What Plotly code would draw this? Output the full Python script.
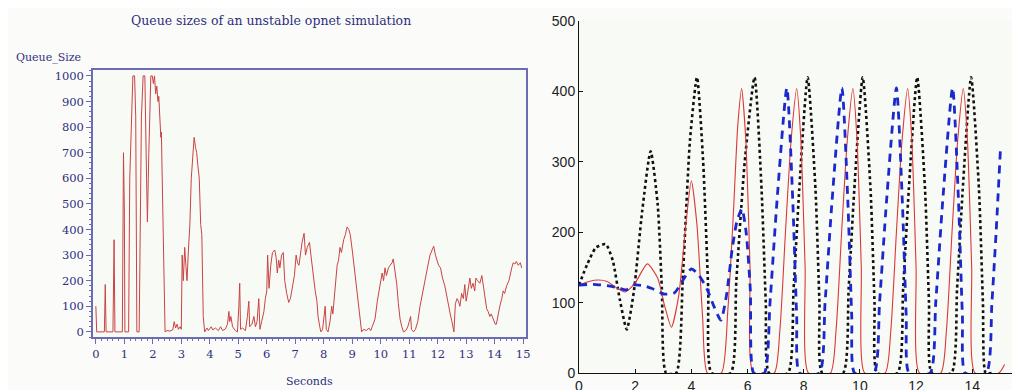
import plotly.graph_objects as go

# ---------------- Left panel: OPNET queue sizes ----------------
left_t = [0.0, 0.03, 0.30, 0.33, 0.36, 0.60, 0.64, 0.67, 0.93, 0.97, 1.00, 1.02, 1.15, 1.19,
          1.30, 1.36, 1.40, 1.44, 1.52, 1.56, 1.60, 1.66, 1.72, 1.78, 1.81, 1.86, 1.93, 1.98,
          2.02, 2.06, 2.10, 2.14, 2.18, 2.21, 2.25, 2.28, 2.30, 2.34, 2.40, 2.43,
          2.50, 2.60, 2.70, 2.75, 2.80, 2.85, 2.90, 2.96, 3.00,
          3.03, 3.07, 3.12, 3.16, 3.20, 3.25, 3.30, 3.35, 3.40, 3.45, 3.50, 3.54, 3.58, 3.63,
          3.68, 3.72, 3.77, 3.82,
          3.90, 3.95, 4.05, 4.10, 4.20, 4.30, 4.38, 4.45, 4.55, 4.62, 4.67, 4.70, 4.74, 4.80,
          4.90, 4.97, 5.02, 5.05, 5.08, 5.15, 5.25, 5.32, 5.37, 5.40, 5.48, 5.55, 5.60, 5.66,
          5.72, 5.76, 5.82, 5.90, 5.95,
          6.00, 6.03, 6.08, 6.14, 6.20, 6.28, 6.33, 6.37, 6.42, 6.46, 6.52, 6.58, 6.63, 6.70,
          6.77, 6.83, 6.90, 6.97, 7.03, 7.08, 7.13, 7.20, 7.24, 7.31, 7.36, 7.42, 7.50, 7.55,
          7.60, 7.64, 7.70, 7.76, 7.80, 7.86, 7.90, 7.96, 8.02, 8.05, 8.09, 8.15, 8.22, 8.28,
          8.32, 8.40, 8.47, 8.52, 8.57, 8.62, 8.70, 8.76, 8.82, 8.88, 8.93, 9.00, 9.06, 9.12,
          9.18, 9.23, 9.28, 9.33, 9.40, 9.50, 9.58, 9.65, 9.70, 9.80, 9.88, 9.95, 10.00, 10.05,
          10.10, 10.15, 10.20, 10.27, 10.33, 10.40, 10.44, 10.50, 10.56, 10.62, 10.68, 10.74,
          10.80, 10.88, 10.95, 11.00, 11.05, 11.08, 11.15, 11.22, 11.30, 11.38, 11.46, 11.56,
          11.64, 11.73, 11.80, 11.86, 11.92, 11.97, 12.03, 12.10, 12.17, 12.25, 12.31, 12.37,
          12.44, 12.50, 12.57, 12.62, 12.68, 12.73, 12.78, 12.84, 12.90, 12.95, 13.00, 13.06,
          13.13, 13.18, 13.24, 13.30, 13.34, 13.40, 13.48, 13.55, 13.60, 13.66, 13.72, 13.77,
          13.83, 13.88, 13.95, 14.02, 14.06, 14.12, 14.18, 14.25, 14.30, 14.35, 14.42, 14.50,
          14.55, 14.60, 14.65, 14.71, 14.76, 14.83, 14.90, 14.95]
left_q = [100, 0, 0, 185, 0, 0, 360, 0, 0, 700, 480, 0, 0, 600,
          1000, 1000, 840, 0, 0, 560, 840, 1000, 1000, 600, 430, 700, 1000, 1000,
          970, 1000, 930, 960, 900, 920, 800, 760, 780, 500, 150, 0,
          5, 3, 8, 40, 15, 30, 10, 20, 10,
          300, 200, 330, 260, 200, 320, 420, 600, 700, 760, 720, 700, 650, 600,
          420, 380, 60, 0,
          15, 5, 20, 8, 15, 5, 20, 5, 12, 30, 80, 40, 60, 20,
          5, 0, 100, 190, 10, 15, 5, 60, 120, 20, 30, 60, 20, 40,
          130, 10, 40, 80, 130,
          160, 300, 170, 260, 310, 320, 290, 230, 280, 250, 300, 310, 200, 150,
          115, 130, 180, 220, 300, 270, 260, 330, 350, 385, 300, 330, 350, 300,
          250, 200, 160, 120, 60, 20, 0, 10, 60, 100, 10, 0, 40, 100,
          70, 180, 260, 280, 330, 310, 360, 380, 410, 400, 380, 320, 260, 200,
          130, 90, 40, 0, 10, 5, 15, 5, 20, 50, 120, 160, 190, 230,
          200, 250, 220, 250, 260, 270, 285, 240, 190, 110, 50, 20,
          0, 5, 20, 40, 60, 10, 0, 10, 40, 100, 150, 200,
          250, 300, 320, 335, 300, 280, 260, 250, 210, 180, 140, 100,
          70, 40, 0, 110, 130, 120, 100, 150, 130, 185, 120, 160,
          210, 170, 190, 160, 210, 200, 190, 220, 180, 140, 90, 80,
          60, 70, 50, 30, 30, 70, 100, 130, 160, 150, 180, 200,
          230, 250, 270, 265, 275, 260, 270, 250]

left_xticks = list(range(0, 16))
left_yticks = list(range(0, 1001, 100))

# ---------------- Right panel: fluid model ----------------
red_t = [0.0, 0.35, 0.7, 1.0, 1.3, 1.64, 2.0, 2.43, 2.8, 3.05, 3.29, 3.55, 3.8, 4.0, 4.2,
         4.4, 4.57, 5.07, 5.3, 5.5, 5.65, 5.79, 5.94, 6.09, 6.21,
         6.95, 7.15, 7.35, 7.55, 7.75, 7.9, 8.05, 8.17,
         8.95, 9.15, 9.35, 9.55, 9.75, 9.9, 10.05, 10.17,
         10.9, 11.1, 11.3, 11.5, 11.7, 11.85, 12.0, 12.12,
         12.88, 13.08, 13.28, 13.48, 13.68, 13.83, 13.98, 14.1,
         14.95, 15.15]
red_v = [125, 130, 132, 130, 122, 115, 128, 155, 135, 95, 65, 110, 210, 273, 210,
         80, 0, 0, 90, 230, 350, 404, 330, 150, 0,
         0, 60, 200, 330, 404, 330, 150, 0,
         0, 60, 200, 330, 404, 330, 150, 0,
         0, 60, 200, 330, 404, 330, 150, 0,
         0, 60, 200, 330, 404, 330, 150, 0,
         0, 12]

blue_t = [0.0, 0.5, 1.0, 1.4, 1.67, 1.96, 2.3, 2.6, 3.05, 3.4, 3.75, 4.0, 4.25, 4.55,
          4.8, 5.05, 5.25, 5.45, 5.62, 5.8, 5.95, 6.1, 6.22,
          6.6, 6.8, 7.05, 7.4, 7.61, 7.75, 7.85,
          8.56, 8.76, 9.01, 9.36, 9.57, 9.71, 9.81,
          10.5, 10.7, 10.95, 11.3, 11.51, 11.65, 11.75,
          12.5, 12.7, 12.95, 13.3, 13.51, 13.65, 13.75,
          14.5, 14.7, 14.85, 15.0]
blue_v = [125, 126, 124, 121, 118, 125, 124, 120, 112, 114, 135, 148, 140, 120,
          95, 75, 110, 175, 215, 233, 200, 118, 0,
          0, 100, 245, 405, 245, 80, 0,
          0, 100, 245, 405, 245, 80, 0,
          0, 100, 245, 405, 245, 80, 0,
          0, 100, 245, 405, 245, 80, 0,
          0, 100, 200, 315]

black_t = [0.0, 0.3, 0.6, 0.95, 1.2, 1.45, 1.7, 1.95, 2.25, 2.55, 2.8, 2.95, 3.1, 3.46,
           3.7, 3.95, 4.2, 4.42, 4.6, 4.72, 5.4, 5.6, 5.9, 6.25, 6.5, 6.65, 6.77,
           7.44, 7.64, 7.84, 8.14, 8.42, 8.56, 8.66,
           9.4, 9.6, 9.8, 10.1, 10.38, 10.52, 10.62,
           11.34, 11.54, 11.74, 12.04, 12.32, 12.46, 12.56,
           13.26, 13.46, 13.66, 13.96, 14.24, 14.38, 14.48, 14.7]
black_v = [125, 155, 178, 183, 160, 105, 62, 115, 230, 315, 240, 120, 0, 0,
           140, 330, 420, 300, 120, 0, 0, 130, 300, 420, 260, 100, 0,
           0, 120, 260, 420, 260, 100, 0,
           0, 120, 260, 420, 260, 100, 0,
           0, 120, 260, 420, 260, 100, 0,
           0, 120, 260, 420, 260, 100, 0, 0]

right_xticks = list(range(0, 15, 2))
right_yticks = list(range(0, 501, 100))

# ---------------- Figure ----------------
# The page body adds an 8 px offset; the figure is sized to fit the window exactly.
OFF = 8
W, H = 1020 - OFF, 390 - OFF
NAVY = "#2e2e7e"
FRAME = "#6c6cb4"
SERIF = "DejaVu Serif"

fig = go.Figure()

fig.add_trace(go.Scatter(x=left_t, y=left_q, mode="lines",
                         line=dict(color="#c84444", width=1),
                         xaxis="x", yaxis="y", showlegend=False))

fig.add_trace(go.Scatter(x=black_t, y=black_v, mode="lines",
                         line=dict(color="#111111", width=2.6, dash="dot", shape="spline", smoothing=0.6),
                         xaxis="x2", yaxis="y2", showlegend=False))
fig.add_trace(go.Scatter(x=red_t, y=red_v, mode="lines",
                         line=dict(color="#dc3838", width=1.1, shape="spline", smoothing=0.6),
                         xaxis="x2", yaxis="y2", showlegend=False))
fig.add_trace(go.Scatter(x=blue_t, y=blue_v, mode="lines",
                         line=dict(color="#1a28cc", width=2.8, dash="8px,6px", shape="spline", smoothing=0.6),
                         xaxis="x2", yaxis="y2", showlegend=False))

def px_x(p):
    return (p - OFF) / W

def px_y(p):
    return 1 - (p - OFF) / H

fig.update_layout(
    width=W, height=H,
    margin=dict(l=0, r=0, t=0, b=0, autoexpand=False),
    paper_bgcolor="#fbfcf9",
    plot_bgcolor="#f8faf5",
    xaxis=dict(domain=[px_x(93), px_x(526)], range=[-0.1, 15.1], automargin=False,
               tickvals=left_xticks, ticks="outside", ticklen=5, tickwidth=1,
               tickcolor=FRAME, showline=True, linecolor=FRAME, linewidth=1.5, mirror=True,
               showgrid=False, zeroline=False,
               tickfont=dict(family=SERIF, size=11.5, color=NAVY),
               minor=dict(dtick=0.2, ticks="outside", ticklen=2, tickcolor=FRAME, showgrid=False)),
    yaxis=dict(domain=[px_y(337), px_y(70)], range=[-20, 1023], automargin=False,
               tickvals=left_yticks, ticks="outside", ticklen=5, tickwidth=1,
               tickcolor=FRAME, showline=True, linecolor=FRAME, linewidth=1.5, mirror=True,
               showgrid=False, zeroline=False,
               tickfont=dict(family=SERIF, size=11.5, color=NAVY),
               minor=dict(dtick=20, ticks="outside", ticklen=2, tickcolor=FRAME, showgrid=False)),
    xaxis2=dict(domain=[px_x(579), 1.0], range=[0, 15.7], anchor="y2", automargin=False,
                tickvals=right_xticks, ticks="inside", ticklen=4, tickcolor="#111",
                showline=True, linecolor="#111", linewidth=1, showgrid=False, zeroline=False,
                tickfont=dict(family="Liberation Sans", size=14, color="#222")),
    yaxis2=dict(domain=[px_y(373), px_y(21)], range=[0, 500], anchor="x2", automargin=False,
                tickvals=right_yticks, ticks="inside", ticklen=4, tickcolor="#111",
                showline=True, linecolor="#111", linewidth=1, showgrid=False, zeroline=False,
                tickfont=dict(family="Liberation Sans", size=14, color="#222")),
    annotations=[
        dict(text="Queue sizes of an unstable opnet simulation", x=px_x(271), y=px_y(20),
             xref="paper", yref="paper", showarrow=False, xanchor="center", yanchor="middle",
             font=dict(family=SERIF, size=12.5, color=NAVY)),
        dict(text="Queue_Size", x=px_x(14), y=px_y(57),
             xref="paper", yref="paper", showarrow=False, xanchor="left", yanchor="middle",
             font=dict(family=SERIF, size=11, color=NAVY)),
        dict(text="Seconds", x=px_x(309), y=px_y(381),
             xref="paper", yref="paper", showarrow=False, xanchor="center", yanchor="middle",
             font=dict(family=SERIF, size=11, color=NAVY)),
    ],
)

fig.write_html("out.html")
